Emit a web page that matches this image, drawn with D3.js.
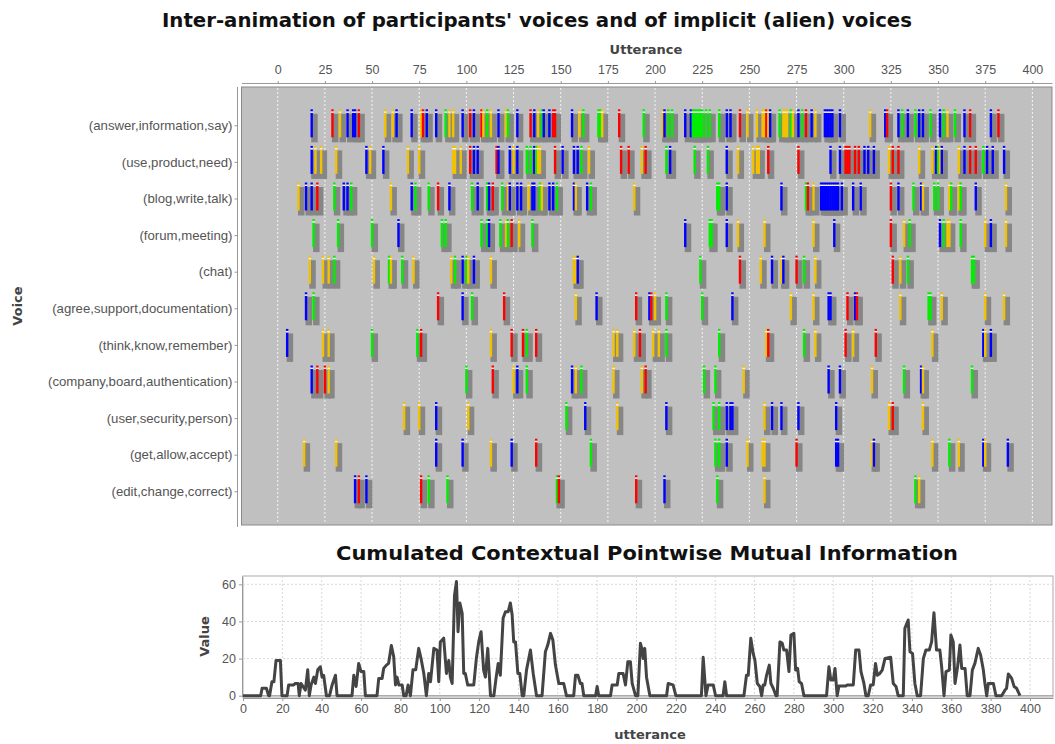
<!DOCTYPE html>
<html>
<head>
<meta charset="utf-8">
<script src="https://cdn.jsdelivr.net/npm/d3@7"></script>
<style>
  body { margin: 0; background: #fff; }
  svg { display: block; font-family: "DejaVu Sans", Tahoma, sans-serif; }
  .tick text { fill: #555; }
  .title { font-weight: bold; font-size: 20px; fill: #111; }
  .axis-label { font-weight: bold; font-size: 13px; fill: #444; }
</style>
</head>
<body>
<div id="chart"></div>
<script>
// Voices (rows of the upper chart)
const voices = [
  '(answer,information,say)', '(use,product,need)', '(blog,write,talk)',
  '(forum,meeting)', '(chat)', '(agree,support,documentation)',
  '(think,know,remember)', '(company,board,authentication)',
  '(user,security,person)', '(get,allow,accept)', '(edit,change,correct)'
];

// Participant colours: B = blue, R = red, G = green, Y = yellow
const participantColors = { B: '#0000ff', R: '#ff0000', G: '#00ee00', Y: '#f2c200' };

// Utterances where each voice occurs, with the participant code
const answerMarks = [[18,'B'],[29,'R'],[33,'Y'],[37,'B'],[40,'B'],[41,'B'],[43,'R'],[57,'Y'],[61,'Y'],[63,'B'],[71,'B'],[76,'Y'],[77,'R'],[79,'B'],[84,'B'],[89,'G'],[91,'Y'],[93,'Y'],[98,'B'],[102,'R'],[104,'B'],[108,'R'],[109,'Y'],[111,'G'],[113,'Y'],[117,'B'],[121,'Y'],[122,'G'],[127,'B'],[134,'R'],[136,'B'],[138,'Y'],[140,'G'],[141,'B'],[144,'B'],[146,'R'],[147,'R'],[156,'B'],[160,'Y'],[162,'G'],[170,'G'],[171,'G'],[172,'Y'],[181,'R'],[194,'G'],[204,'Y'],[205,'B'],[207,'G'],[209,'G'],[216,'B'],[219,'B'],[220,'G'],[221,'G'],[222,'G'],[223,'G'],[224,'G'],[225,'G'],[227,'G'],[229,'G'],[234,'G'],[238,'B'],[240,'B'],[245,'R'],[249,'Y'],[254,'Y'],[257,'Y'],[258,'Y'],[259,'R'],[260,'Y'],[261,'B'],[266,'G'],[268,'Y'],[269,'Y'],[270,'Y'],[272,'G'],[273,'Y'],[276,'B'],[278,'G'],[280,'R'],[283,'B'],[285,'Y'],[290,'B'],[291,'B'],[292,'B'],[293,'B'],[294,'B'],[298,'B'],[314,'Y'],[322,'B'],[323,'R'],[329,'B'],[331,'G'],[334,'B'],[338,'G'],[340,'B'],[342,'B'],[346,'G'],[351,'B'],[353,'G'],[355,'Y'],[359,'G'],[364,'B'],[367,'R'],[378,'B'],[382,'R']];
const useMarks = [[18,'B'],[20,'Y'],[23,'Y'],[31,'Y'],[47,'B'],[49,'Y'],[56,'B'],[69,'Y'],[75,'Y'],[93,'Y'],[94,'Y'],[97,'Y'],[102,'R'],[104,'B'],[106,'B'],[116,'R'],[117,'B'],[123,'B'],[125,'Y'],[127,'B'],[132,'G'],[134,'G'],[136,'B'],[137,'G'],[138,'Y'],[139,'Y'],[147,'R'],[151,'B'],[157,'B'],[159,'B'],[161,'G'],[165,'Y'],[182,'R'],[186,'R'],[193,'Y'],[195,'R'],[206,'G'],[208,'B'],[221,'G'],[228,'G'],[238,'B'],[244,'Y'],[252,'Y'],[254,'Y'],[255,'Y'],[260,'R'],[276,'R'],[293,'B'],[298,'B'],[301,'R'],[302,'R'],[303,'R'],[306,'R'],[308,'R'],[311,'B'],[313,'B'],[316,'B'],[324,'Y'],[326,'R'],[329,'R'],[340,'Y'],[347,'Y'],[349,'B'],[350,'G'],[351,'Y'],[352,'B'],[361,'Y'],[364,'B'],[367,'R'],[370,'R'],[374,'G'],[376,'B'],[379,'B'],[385,'B']];
const blogMarks = [[11,'Y'],[15,'B'],[18,'B'],[21,'R'],[30,'G'],[35,'B'],[37,'B'],[39,'G'],[60,'Y'],[71,'B'],[73,'G'],[80,'G'],[85,'R'],[91,'B'],[103,'G'],[106,'B'],[111,'G'],[112,'B'],[114,'R'],[119,'G'],[122,'Y'],[123,'B'],[127,'B'],[129,'B'],[133,'Y'],[135,'B'],[136,'B'],[139,'G'],[140,'Y'],[144,'B'],[146,'B'],[148,'G'],[157,'B'],[158,'Y'],[164,'B'],[166,'G'],[189,'Y'],[233,'G'],[234,'G'],[238,'B'],[267,'B'],[280,'G'],[281,'R'],[284,'Y'],[288,'B'],[289,'B'],[290,'B'],[291,'B'],[292,'B'],[293,'B'],[294,'B'],[295,'B'],[296,'B'],[297,'B'],[299,'B'],[305,'B'],[309,'B'],[325,'R'],[329,'B'],[337,'G'],[341,'B'],[342,'Y'],[348,'G'],[350,'G'],[356,'Y'],[357,'G'],[361,'Y'],[362,'G'],[370,'B'],[386,'Y']];
const forumMarks = [[19,'G'],[32,'G'],[50,'G'],[64,'B'],[87,'G'],[89,'G'],[108,'G'],[111,'G'],[112,'B'],[118,'G'],[121,'Y'],[122,'G'],[124,'R'],[128,'Y'],[135,'G'],[216,'B'],[229,'G'],[230,'G'],[238,'B'],[244,'Y'],[258,'Y'],[284,'Y'],[295,'B'],[325,'R'],[332,'Y'],[335,'G'],[351,'B'],[353,'G'],[355,'Y'],[356,'Y'],[362,'G'],[375,'Y'],[378,'B'],[386,'Y']];
const chatMarks = [[17,'Y'],[24,'Y'],[27,'Y'],[30,'G'],[51,'Y'],[59,'G'],[60,'Y'],[66,'G'],[72,'Y'],[92,'Y'],[94,'G'],[98,'B'],[100,'G'],[101,'Y'],[104,'B'],[113,'Y'],[157,'Y'],[158,'Y'],[159,'B'],[224,'G'],[245,'R'],[256,'Y'],[262,'B'],[267,'Y'],[268,'B'],[275,'R'],[279,'G'],[285,'Y'],[326,'R'],[330,'Y'],[334,'G'],[368,'G'],[369,'G']];
const agreeMarks = [[15,'B'],[19,'G'],[85,'R'],[98,'B'],[103,'G'],[120,'R'],[158,'Y'],[169,'B'],[190,'R'],[197,'B'],[198,'R'],[200,'Y'],[206,'G'],[225,'G'],[241,'B'],[272,'Y'],[284,'Y'],[292,'B'],[293,'B'],[302,'R'],[306,'B'],[307,'R'],[330,'Y'],[345,'G'],[346,'G'],[352,'Y'],[375,'Y'],[385,'Y']];
const thinkMarks = [[5,'B'],[24,'Y'],[27,'Y'],[50,'G'],[74,'G'],[76,'R'],[113,'Y'],[124,'R'],[130,'R'],[132,'G'],[137,'R'],[178,'Y'],[180,'Y'],[189,'Y'],[192,'R'],[199,'Y'],[202,'Y'],[206,'G'],[234,'G'],[259,'Y'],[260,'R'],[279,'G'],[285,'Y'],[301,'R'],[305,'Y'],[317,'R'],[347,'Y'],[374,'B'],[375,'Y'],[378,'B']];
const companyMarks = [[18,'B'],[21,'R'],[25,'R'],[27,'Y'],[100,'G'],[114,'R'],[125,'Y'],[127,'B'],[132,'G'],[156,'B'],[158,'Y'],[161,'G'],[178,'Y'],[193,'Y'],[195,'R'],[226,'G'],[232,'G'],[247,'Y'],[292,'B'],[298,'B'],[315,'Y'],[332,'G'],[341,'B'],[342,'Y'],[368,'G']];
const userMarks = [[67,'Y'],[75,'Y'],[84,'B'],[101,'Y'],[153,'G'],[163,'B'],[180,'Y'],[206,'B'],[231,'G'],[234,'G'],[238,'B'],[240,'B'],[241,'B'],[258,'Y'],[262,'B'],[267,'B'],[276,'B'],[296,'B'],[324,'Y'],[326,'R'],[342,'Y']];
const getMarks = [[14,'Y'],[31,'Y'],[84,'B'],[98,'B'],[113,'Y'],[124,'B'],[137,'R'],[166,'G'],[232,'G'],[234,'G'],[238,'B'],[249,'Y'],[257,'Y'],[258,'Y'],[275,'R'],[296,'B'],[297,'B'],[315,'Y'],[316,'B'],[347,'Y'],[356,'G'],[361,'Y'],[374,'B'],[375,'Y'],[387,'B']];
const editMarks = [[41,'B'],[43,'R'],[47,'B'],[76,'R'],[80,'G'],[90,'G'],[148,'G'],[149,'R'],[190,'R'],[205,'B'],[233,'G'],[258,'Y'],[338,'G'],[340,'Y']];

const voiceMarks = [answerMarks, useMarks, blogMarks, forumMarks, chatMarks, agreeMarks,
  thinkMarks, companyMarks, userMarks, getMarks, editMarks];

// Upper chart tick labels
const utteranceTicks = d3.range(0, 401, 25);

// Cumulated contextual PMI (lower chart), polyline vertices
const cpmiUtterance = [0,9,9.7,11.9,13,13.5,14.7,15.7,16.8,19,19.8,22.4,23.2,25.8,26.6,28,28.6,29.5,31.7,32.9,33.7,34.6,36,36.8,38,39.3,40.2,41,42.4,44,45.3,47,47.8,55.4,56.3,57.5,58.8,60,61.4,62.2,68.1,69,70.7,71.5,72.9,74,75.4,76.6,77.5,78.3,79.2,80.9,81.7,82.9,83.9,85.1,86.4,87.8,89.3,90.5,91.9,93.2,94.4,95.3,97,98.6,99.5,100.3,102,103.4,104.6,105.4,106.3,107.5,108.5,109.3,110.2,111.4,112.2,113,114.2,117.3,118.6,119.8,121,122.3,123.2,124.4,125.8,127.5,128.6,129.7,130.8,132.2,133.4,134.8,135.9,136.8,137.6,138.5,139.7,140.7,141.9,142.7,144.1,146.1,147.5,149.2,152,153.7,154.9,156.3,157.5,158.8,160.5,163,164.4,168.1,169,170.2,171.5,172.3,173.2,179.2,180,180.8,186.8,187.6,190.2,191,193.2,194.4,195.6,196.9,197.8,199.5,200.7,202,202.7,203.4,204.2,205.1,206.8,215.3,216.1,218.6,220,233,233.9,235.3,236.4,239,240.2,244,244.9,245.8,254.6,255.9,256.8,258.1,259.3,260.2,261.4,262.7,263.6,264.4,265.2,266.1,267.5,268.3,269.5,270.9,271.5,272.9,274.1,274.9,276.3,277.5,278.5,280,280.9,281.9,282.7,283.9,285.1,296.6,297.8,298.8,300,300.9,302,302.9,306.3,307.1,310.2,311.4,313.1,314.1,315.6,316.6,317.8,319,320.3,321.5,322.4,323.7,324.9,326.3,329.2,330.5,331.9,333,335.6,336.4,338.1,339,340.3,341.5,342.7,344.4,345.8,347.1,348.8,350,351.2,352.5,354.2,355.1,356.3,357.3,359,359.8,361,361.9,363.2,364.4,365.3,367,368.1,369.5,370.7,372,373.7,374.9,376.3,377.1,378,378.8,381.4,382.7,385.6,387.3,388.1,389,390.7,391.9,393.2,394.9];
const cpmiValue = [0,0,4,4,0,0,7.5,7.5,19,19,0,0,5.8,5.8,6.6,6.6,0,6.6,3,14,0,5.8,10,6.6,14,15.6,10,11,0,0,5.8,11,0,0,11,5,17.4,13,13,0,0,9.3,9.3,14.7,16.5,17.4,27,21,5.8,10,5.8,5.8,0,0,5.8,0,14,14,25.5,20,12,0,12,7.5,25.5,24.6,7.5,29,31,12,19,10,6.6,54,61.5,34.5,50,44.4,12,12,5.8,5.8,20,29,34.5,13.8,10,25.5,0,0,9.3,17.4,11,41.7,45.3,45.3,50,43.5,29,29,12,12,0,0,13.8,24.6,12,0,0,23.7,27.3,33.6,30,16.5,6.6,6.6,0,0,11,11,6.6,6.6,0,0,5,0,0,5.8,5.8,12,12,5.8,18.3,18.3,6.6,0,0,28.2,25.5,20,25.5,10,0,0,6.6,5.8,0,0,20.7,0,5.8,5.8,0,0,7.5,0,0,11,11,31,22.8,19,6.6,5,0,5.8,5.8,11,16.5,6.6,4,0,0,29,28.2,24.6,24.6,13,32.7,33.6,13.8,14.7,7.5,6.6,0,0,15.6,8.4,8.4,14.7,0,5.2,5.2,5.8,5.8,24.6,24.6,13,6.6,0,0,5.8,5.8,17.4,11,12,13.8,20,20.7,6.6,5,0,0,36.3,40.8,23.7,22.8,6.6,0,0,20,24.6,24.6,29,44.7,24.6,24.6,15.6,0,13,13.8,32.7,29,6.6,15.6,27.3,14.7,14.7,0,0,13.8,17.4,25.5,21.9,13.8,6.6,0,6.6,6.6,0,0,3,4,11.7,9.3,5,4,0];
const cpmiXTicks = d3.range(0, 401, 20);
const cpmiYTicks = [0, 20, 40, 60];

function drawChart() {
    const svg = d3.select('#chart').append('svg')
        .attr('width', 1055)
        .attr('height', 744);

    // ---------- Upper chart: voices by utterance ----------
    const top = { left: 241.5, right: 1052, top: 87, bottom: 525 };

    const xTop = d3.scaleLinear()
        .domain([-19.2, 410.4])
        .range([top.left, top.right]);

    const yTop = d3.scalePoint()
        .domain(voices)
        .range([125.3, 491.3]);

    svg.append('text')
        .attr('class', 'title')
        .attr('x', 537)
        .attr('y', 27)
        .attr('text-anchor', 'middle')
        .attr('textLength', 750)
        .attr('lengthAdjust', 'spacingAndGlyphs')
        .text("Inter-animation of participants' voices and of implicit (alien) voices");

    // plot background
    svg.append('rect')
        .attr('x', top.left)
        .attr('y', top.top)
        .attr('width', top.right - top.left)
        .attr('height', top.bottom - top.top)
        .attr('fill', '#c0c0c0')
        .attr('stroke', '#8a8a8a')
        .attr('stroke-width', 1);

    // vertical grid lines
    svg.append('g')
        .selectAll('line')
        .data(utteranceTicks)
        .enter()
        .append('line')
        .attr('x1', d => xTop(d))
        .attr('x2', d => xTop(d))
        .attr('y1', top.top + 1)
        .attr('y2', top.bottom - 1)
        .attr('stroke', '#f4f4f4')
        .attr('stroke-width', 1)
        .attr('stroke-dasharray', '2,2');

    // top axis
    const xAxisTop = d3.axisTop(xTop)
        .tickValues(utteranceTicks)
        .tickSize(2)
        .tickSizeOuter(0);

    const gxTop = svg.append('g')
        .attr('transform', 'translate(0,83)')
        .call(xAxisTop);
    gxTop.select('.domain').attr('stroke', '#999');
    gxTop.selectAll('.tick line').attr('stroke', '#999');
    gxTop.selectAll('.tick text').attr('font-size', 12.5).attr('dy', '-0.3em');

    svg.append('text')
        .attr('class', 'axis-label')
        .attr('x', 646)
        .attr('y', 54)
        .attr('text-anchor', 'middle')
        .text('Utterance');

    // left axis
    const yAxisTop = d3.axisLeft(yTop)
        .tickSize(3)
        .tickSizeOuter(0);

    const gyTop = svg.append('g')
        .attr('transform', 'translate(237.5,0)')
        .call(yAxisTop);
    gyTop.select('.domain').remove();
    gyTop.selectAll('.tick line').attr('stroke', '#999');
    gyTop.selectAll('.tick text').attr('font-size', 13.2).attr('x', -5);
    gyTop.append('line')
        .attr('x1', 0).attr('x2', 0)
        .attr('y1', top.top).attr('y2', top.bottom + 2)
        .attr('stroke', '#999');

    svg.append('text')
        .attr('class', 'axis-label')
        .attr('transform', `translate(22,${(top.top + top.bottom) / 2}) rotate(-90)`)
        .attr('text-anchor', 'middle')
        .text('Voice');

    // marks, one group per voice
    const marksLayer = svg.append('g');
    voices.forEach((voice, i) => {
        const cy = yTop(voice);
        const row = marksLayer.append('g');

        // shadows first
        row.selectAll('.shadow')
            .data(voiceMarks[i])
            .enter()
            .append('rect')
            .attr('class', 'shadow')
            .attr('x', d => xTop(d[0]) - 0.5)
            .attr('y', cy - 11.5)
            .attr('width', 6.5)
            .attr('height', 28.5)
            .attr('fill', '#868686');

        row.selectAll('.bar')
            .data(voiceMarks[i])
            .enter()
            .append('rect')
            .attr('class', 'bar')
            .attr('x', d => xTop(d[0]) - 1.2)
            .attr('y', cy - 12.5)
            .attr('width', 2.4)
            .attr('height', 24.5)
            .attr('fill', d => participantColors[d[1]]);

        row.selectAll('.gap')
            .data(voiceMarks[i])
            .enter()
            .append('rect')
            .attr('class', 'gap')
            .attr('x', d => xTop(d[0]) - 1.2)
            .attr('y', cy - 14)
            .attr('width', 2.4)
            .attr('height', 1.5)
            .attr('fill', '#f4f4f4');

        row.selectAll('.dot')
            .data(voiceMarks[i])
            .enter()
            .append('rect')
            .attr('class', 'dot')
            .attr('x', d => xTop(d[0]) - 1.2)
            .attr('y', cy - 16)
            .attr('width', 2.4)
            .attr('height', 2)
            .attr('fill', d => participantColors[d[1]]);
    });

    // ---------- Lower chart: cumulated PMI ----------
    const bot = { left: 243, right: 1053, top: 576, bottom: 697 };

    const xBot = d3.scaleLinear()
        .domain([0, 411.7])
        .range([bot.left, bot.right]);

    const yBot = d3.scaleLinear()
        .domain([-0.7, 64.5])
        .range([bot.bottom, bot.top]);

    svg.append('text')
        .attr('class', 'title')
        .attr('x', 647)
        .attr('y', 560)
        .attr('text-anchor', 'middle')
        .attr('textLength', 622)
        .attr('lengthAdjust', 'spacingAndGlyphs')
        .text('Cumulated Contextual Pointwise Mutual Information');

    svg.append('rect')
        .attr('x', bot.left)
        .attr('y', bot.top)
        .attr('width', bot.right - bot.left)
        .attr('height', bot.bottom - bot.top)
        .attr('fill', '#fff')
        .attr('stroke', '#aaa');

    const grid = svg.append('g')
        .attr('stroke', '#d8d8d8')
        .attr('stroke-dasharray', '2,2');
    grid.selectAll('.vgrid')
        .data(cpmiXTicks)
        .enter()
        .append('line')
        .attr('x1', d => xBot(d)).attr('x2', d => xBot(d))
        .attr('y1', bot.top).attr('y2', bot.bottom);
    grid.selectAll('.hgrid')
        .data(cpmiYTicks.slice(1))
        .enter()
        .append('line')
        .attr('x1', bot.left).attr('x2', bot.right)
        .attr('y1', d => yBot(d)).attr('y2', d => yBot(d));

    // zero line
    svg.append('line')
        .attr('x1', bot.left).attr('x2', bot.right)
        .attr('y1', yBot(0)).attr('y2', yBot(0))
        .attr('stroke', '#999');

    const xAxisBot = d3.axisBottom(xBot)
        .tickValues(cpmiXTicks)
        .tickSize(3)
        .tickSizeOuter(0);
    const gxBot = svg.append('g')
        .attr('transform', `translate(0,${bot.bottom + 1})`)
        .call(xAxisBot);
    gxBot.select('.domain').attr('stroke', '#999');
    gxBot.selectAll('.tick line').attr('stroke', '#999');
    gxBot.selectAll('.tick text').attr('font-size', 12.5);

    const yAxisBot = d3.axisLeft(yBot)
        .tickValues(cpmiYTicks)
        .tickSize(3)
        .tickSizeOuter(0);
    const gyBot = svg.append('g')
        .attr('transform', `translate(${bot.left - 1},0)`)
        .call(yAxisBot);
    gyBot.select('.domain').attr('stroke', '#999');
    gyBot.selectAll('.tick line').attr('stroke', '#999');
    gyBot.selectAll('.tick text').attr('font-size', 12.5);

    svg.append('text')
        .attr('class', 'axis-label')
        .attr('x', 650)
        .attr('y', 739)
        .attr('text-anchor', 'middle')
        .text('utterance');

    svg.append('text')
        .attr('class', 'axis-label')
        .attr('transform', `translate(209,${(bot.top + bot.bottom) / 2}) rotate(-90)`)
        .attr('text-anchor', 'middle')
        .text('Value');

    const cpmiPoints = cpmiUtterance.map((u, i) => [u, cpmiValue[i]]);
    const line = d3.line()
        .x(d => xBot(d[0]))
        .y(d => yBot(d[1]));

    svg.append('path')
        .datum(cpmiPoints)
        .attr('d', line)
        .attr('fill', 'none')
        .attr('stroke', '#444')
        .attr('stroke-width', 3)
        .attr('stroke-linejoin', 'round');
}

drawChart();
</script>
</body>
</html>
